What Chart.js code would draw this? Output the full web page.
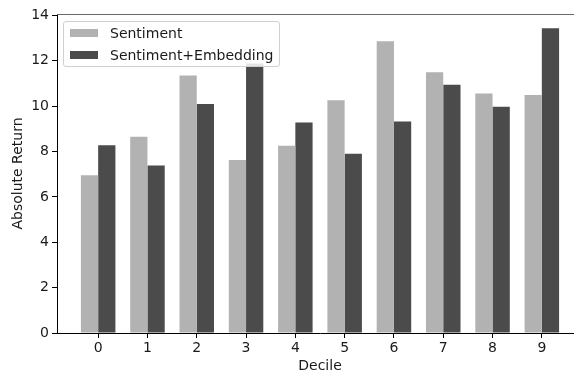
<!DOCTYPE html>
<html>
<head>
<meta charset="utf-8">
<script src="https://cdn.jsdelivr.net/npm/chart.js@4/dist/chart.umd.min.js"></script>
<style>
  html, body { margin: 0; padding: 0; background: #fff; overflow: hidden; }
  /* the reference is cropped on the right, so the plot runs a little past the window */
  .wrap { position: relative; width: 584px; height: 376px; }
  .legend {
    position: absolute; left: 63px; top: 21px; width: 215px; height: 44px;
    border: 1px solid #d0d0d0; border-radius: 3px; background: rgba(255,255,255,0.85);
    font-family: "DejaVu Sans", sans-serif; font-size: 14px; color: #1a1a1a;
  }
  .legend .row { position: absolute; left: 6px; height: 16px; display: flex; align-items: center; }
  .legend .box { width: 28px; height: 8px; margin-right: 12px; }
</style>
</head>
<body>
<div class="wrap">
  <canvas id="grafica"></canvas>
  <div class="legend" id="leyenda"></div>
</div>
<script>
const deciles = [0, 1, 2, 3, 4, 5, 6, 7, 8, 9];
const sentiment = [6.95, 8.65, 11.35, 7.63, 8.25, 10.26, 12.86, 11.49, 10.56, 10.49];
const sentimentEmbedding = [8.28, 7.38, 10.09, 11.88, 9.28, 7.90, 9.32, 10.94, 9.97, 13.43];
const yTicks = [0, 2, 4, 6, 8, 10, 12, 14];
const seriesLabels = ["Sentiment", "Sentiment+Embedding"];
const colores = ["#b2b2b2", "#4b4b4b"];

Chart.defaults.font.family = "'DejaVu Sans', sans-serif";
Chart.defaults.font.size = 14;
Chart.defaults.color = "#1a1a1a";

// top spine
const bordeArriba = {
  id: "bordeArriba",
  afterDraw(chart) {
    const {ctx, chartArea} = chart;
    ctx.save();
    ctx.strokeStyle = "#6a6a6a";
    ctx.lineWidth = 1;
    ctx.beginPath();
    ctx.moveTo(chartArea.left, chartArea.top + 0.5);
    ctx.lineTo(chartArea.right, chartArea.top + 0.5);
    ctx.stroke();
    ctx.restore();
  }
};

const datasets = [sentiment, sentimentEmbedding].map((serie, i) => ({
  label: seriesLabels[i],
  data: serie.map((v, j) => ({x: deciles[j], y: v})),
  backgroundColor: colores[i],
  borderWidth: 0,
  categoryPercentage: 0.7,
  barPercentage: 1.0
}));

new Chart(document.getElementById("grafica"), {
  type: "bar",
  data: { datasets: datasets },
  plugins: [bordeArriba],
  options: {
    responsive: true,
    maintainAspectRatio: false,
    animation: false,
    layout: { padding: { top: 14, right: 1, left: 0, bottom: 0 } },
    plugins: { legend: { display: false }, tooltip: { enabled: false } },
    scales: {
      x: {
        type: "linear",
        offset: false,
        min: -0.835,
        max: 9.835,
        afterBuildTicks: (scale) => { scale.ticks = deciles.map(v => ({value: v})); },
        afterFit: (scale) => { scale.height = 43; },
        grid: { drawOnChartArea: false, drawTicks: true, tickLength: 5, color: "#000", offset: false },
        border: { color: "#000", width: 1 },
        ticks: { padding: 2, maxRotation: 0 },
        title: { display: true, text: "Decile", padding: { top: 0, bottom: 1 } }
      },
      y: {
        min: 0,
        max: 14.06,
        afterBuildTicks: (scale) => { scale.ticks = yTicks.map(v => ({value: v})); },
        afterFit: (scale) => { scale.width = 57; },
        grid: { drawOnChartArea: false, drawTicks: true, tickLength: 5, color: "#000" },
        border: { color: "#000", width: 1 },
        ticks: { padding: 3 },
        title: { display: true, text: "Absolute Return", padding: { top: 10, bottom: 0 } }
      }
    }
  }
});

// legend drawn as html inside the axes, like the original
const leyenda = document.getElementById("leyenda");
seriesLabels.forEach((nombre, i) => {
  const fila = document.createElement("div");
  fila.className = "row";
  fila.style.top = (3 + i * 21.5) + "px";
  const caja = document.createElement("span");
  caja.className = "box";
  caja.style.background = colores[i];
  const texto = document.createElement("span");
  texto.textContent = nombre;
  fila.appendChild(caja);
  fila.appendChild(texto);
  leyenda.appendChild(fila);
});
</script>
</body>
</html>
